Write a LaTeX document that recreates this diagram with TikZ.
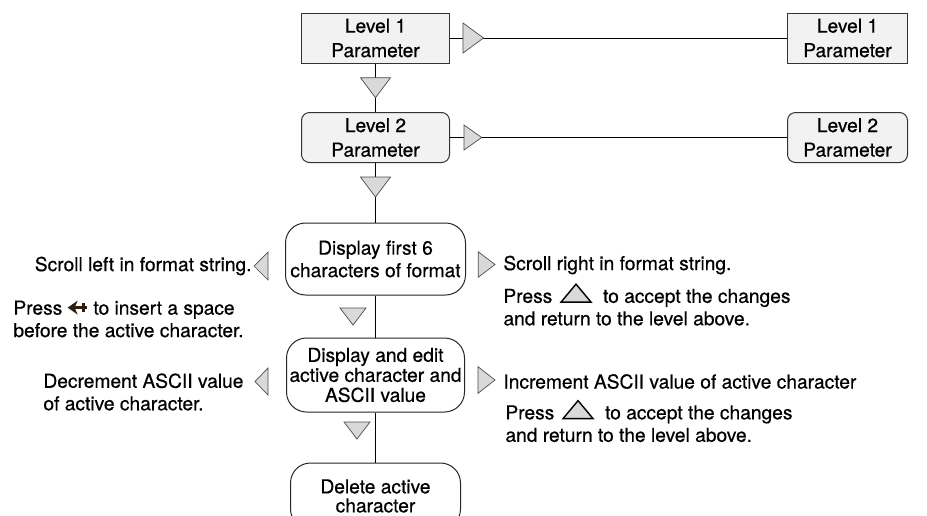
\documentclass[tikz,border=0pt]{standalone}
\usepackage{fontspec}
\setmainfont{TeX Gyre Heros}[BoldFont={TeX Gyre Heros},BoldFeatures={FakeBold=0.5}]
\definecolor{boxgray}{HTML}{F2F2F2}
\definecolor{trigray}{HTML}{D9D9D9}
\definecolor{keybrown}{HTML}{2E1F0C}
% key symbols used inside the hints
\newsavebox{\upkey}
\sbox{\upkey}{\tikz[x=1pt,y=1pt]\filldraw[fill=trigray,line width=1.4pt] (0,0) -- (30,0) -- (15,18) -- cycle;}
\newsavebox{\backkey}
\sbox{\backkey}{\tikz[x=1pt,y=1pt]{\fill[keybrown] (0,6) -- (10,13) -- (7,6) -- (10,-1) -- cycle;
  \draw[keybrown,line width=2.8pt] (5,6) -- (19,6) (15.5,1.5) -- (15.5,10.5);}}
% small triangles: base point x,y / length / half base
\newcommand{\tright}[4]{\filldraw[tri] (#1,#2-#4) -- (#1+#3,#2) -- (#1,#2+#4) -- cycle;}
\newcommand{\tleft}[4]{\filldraw[tri] (#1,#2-#4) -- (#1-#3,#2) -- (#1,#2+#4) -- cycle;}
\newcommand{\tdown}[4]{\filldraw[tri] (#1-#4,#2) -- (#1,#2+#3) -- (#1+#4,#2) -- cycle;}
\begin{document}
\begin{tikzpicture}[x=1pt,y=-1pt,
  font=\fontsize{19.2}{22.5}\selectfont\bfseries,
  line width=0.9pt,
  parbox/.style={draw=black!80,line width=1pt,fill=boxgray,align=center,inner sep=0pt,minimum height=50pt},
  stepbox/.style={draw=black!85,line width=1pt,rounded corners=20pt,align=center,inner sep=0pt},
  tri/.style={draw=black!70,fill=trigray,line width=0.7pt},
  hint/.style={align=left,inner sep=0pt}]
\useasboundingbox (0,0) rectangle (927,515);
%
\node[parbox,minimum width=148pt] (lvone) at (375.5,38) {Level 1\\[2pt]Parameter};
\node[parbox,minimum width=120pt] (lvoneR) at (847.5,38) {Level 1\\[2pt]Parameter};
\node[parbox,rounded corners=8pt,minimum width=148pt] (lvtwo) at (375.5,137.5) {Level 2\\[2pt]Parameter};
\node[parbox,rounded corners=8pt,minimum width=120pt] (lvtwoR) at (847.5,137.5) {Level 2\\[2pt]Parameter};
\node[stepbox,minimum width=180pt,minimum height=72pt] (first) at (375.5,259) {Display first 6\\characters of format};
\node[stepbox,minimum width=178pt,minimum height=74pt,font=\fontsize{19.2}{20}\selectfont\bfseries] (edit) at (375.5,375) {Display and edit\\active character and\\ASCII value};
\node[stepbox,minimum width=170pt,minimum height=66pt,font=\fontsize{19.2}{19}\selectfont\bfseries] (del) at (375.5,496) {Delete active\\character};
%
\draw (lvone) -- (lvoneR);
\draw (lvtwo) -- (lvtwoR);
\draw (lvone) -- (lvtwo);
\draw (lvtwo) -- (first);
\draw (first) -- (edit);
\draw (edit) -- (del);
%
\tright{463}{38}{20.5}{15}
\tdown{375.5}{77.7}{20}{15}
\tright{464}{137.5}{17.7}{12.5}
\tdown{375.5}{177}{20}{15}
\tleft{268}{266}{14}{14}
\tright{478.3}{264.5}{16.7}{12.7}
\tdown{353}{308}{17}{13}
\tleft{268}{381.5}{13}{13.5}
\tright{478}{380}{17}{13.3}
\tdown{357}{422}{17}{13}
%
\node[hint,anchor=east] (scrollL) at (252,266) {Scroll left in format string.};
\node[hint,anchor=west] (scrollR) at (503,265) {Scroll right in format string.};
\node[hint,anchor=west] (acceptA) at (503,304.5) {Press\hspace{8pt}\usebox{\upkey}\hspace{6pt} to accept the changes\\and return to the level above.};
\node[hint,anchor=west] (insert) at (13,319) {Press \usebox{\backkey} to insert a space\\before the active character.};
\node[hint,anchor=west] (decr) at (43,392) {Decrement ASCII value\\of active character.};
\node[hint,anchor=west] (incr) at (503,381.5) {Increment ASCII value of active character};
\node[hint,anchor=west] (acceptB) at (505,421) {Press\hspace{8pt}\usebox{\upkey}\hspace{6pt} to accept the changes\\and return to the level above.};
\end{tikzpicture}
\end{document}
